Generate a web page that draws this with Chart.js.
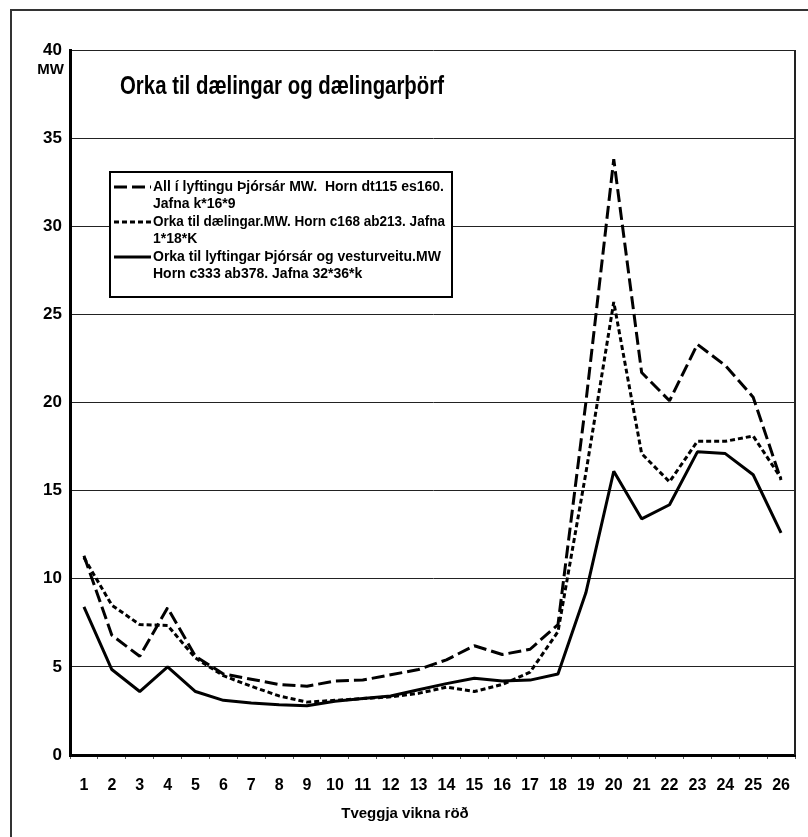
<!DOCTYPE html>
<html>
<head>
<meta charset="utf-8">
<title>Orka til dælingar og dælingarþörf</title>
<script src="https://cdn.jsdelivr.net/npm/chart.js@4/dist/chart.umd.min.js"></script>
<style>
  html, body { margin: 0; padding: 0; background: #fff; }
  #wrap { width: 808px; height: 837px; }
</style>
</head>
<body>
<div id="wrap"><canvas id="chart"></canvas></div>
<script>
// data
const weeks = ['1', '2', '3', '4', '5', '6', '7', '8', '9', '10', '11', '12', '13',
  '14', '15', '16', '17', '18', '19', '20', '21', '22', '23', '24', '25', '26'];

const allLyfting = [11.3, 6.8, 5.6, 8.35, 5.6, 4.6, 4.3, 4.0, 3.9, 4.2, 4.25, 4.55, 4.85,
  5.4, 6.2, 5.7, 6.0, 7.4, 20.0, 33.8, 21.7, 20.1, 23.3, 22.1, 20.3, 15.6];

const orkaDaeling = [11.2, 8.5, 7.4, 7.35, 5.5, 4.5, 3.9, 3.35, 3.0, 3.1, 3.2, 3.3, 3.5,
  3.85, 3.6, 4.0, 4.7, 7.0, 16.0, 25.7, 17.1, 15.5, 17.8, 17.8, 18.1, 15.7];

const orkaLyfting = [8.4, 4.85, 3.6, 5.0, 3.6, 3.1, 2.95, 2.85, 2.8, 3.05, 3.2, 3.35, 3.7,
  4.05, 4.35, 4.2, 4.25, 4.6, 9.2, 16.1, 13.4, 14.2, 17.2, 17.1, 15.9, 12.6];

const seriesLabels = [
  ['All í lyftingu Þjórsár MW.  Horn dt115 es160.', 'Jafna k*16*9'],
  ['Orka til dælingar.MW. Horn c168 ab213. Jafna', '1*18*K'],
  ['Orka til lyftingar Þjórsár og vesturveitu.MW', 'Horn c333 ab378. Jafna 32*36*k']
];

const yTicks = [0, 5, 10, 15, 20, 25, 30, 35, 40];

const FONT = '"Liberation Sans", Arial, sans-serif';

// frame, title, legend and axis captions
const extras = {
  id: 'extras',
  beforeDraw(chart) {
    const ctx = chart.ctx;
    ctx.save();
    ctx.fillStyle = '#fff';
    ctx.fillRect(0, 0, chart.width, chart.height);
    ctx.strokeStyle = '#333';
    ctx.lineWidth = 2;
    ctx.beginPath();
    ctx.moveTo(11, chart.height);
    ctx.lineTo(11, 10);
    ctx.lineTo(chart.width, 10);
    ctx.stroke();
    ctx.restore();
  },
  afterDraw(chart) {
    const ctx = chart.ctx;
    const a = chart.chartArea;
    ctx.save();

    // right edge of plot area
    ctx.strokeStyle = '#222';
    ctx.lineWidth = 2;
    ctx.beginPath();
    ctx.moveTo(a.right, a.top);
    ctx.lineTo(a.right, a.bottom);
    ctx.stroke();

    ctx.fillStyle = '#000';
    ctx.textBaseline = 'alphabetic';

    // unit under the top tick
    ctx.font = 'bold 15px ' + FONT;
    ctx.textAlign = 'right';
    ctx.fillText('MW', a.left - 6, 74);

    // title inside the plot
    ctx.font = 'bold 26px ' + FONT;
    ctx.textAlign = 'left';
    ctx.fillText('Orka til dælingar og dælingarþörf', 120, 94, 324);

    // x axis caption
    ctx.font = 'bold 15px ' + FONT;
    ctx.textAlign = 'center';
    ctx.fillText('Tveggja vikna röð', 405, 818, 130);

    // legend box
    const box = { x: 110, y: 172, w: 342, h: 125 };
    ctx.fillStyle = '#fff';
    ctx.fillRect(box.x, box.y, box.w, box.h);
    ctx.strokeStyle = '#000';
    ctx.lineWidth = 2;
    ctx.strokeRect(box.x, box.y, box.w, box.h);

    const rows = [187, 222, 257];
    chart.data.datasets.forEach((ds, i) => {
      const y = rows[i];
      ctx.strokeStyle = ds.borderColor;
      ctx.lineWidth = ds.borderWidth;
      ctx.setLineDash(ds.borderDash || []);
      ctx.beginPath();
      ctx.moveTo(114, y);
      ctx.lineTo(151, y);
      ctx.stroke();
      ctx.setLineDash([]);

      ctx.fillStyle = '#000';
      ctx.font = 'bold 14px ' + FONT;
      ctx.textAlign = 'left';
      ctx.textBaseline = 'middle';
      ds.label.forEach((line, j) => {
        ctx.fillText(line, 153, y + j * 17.5, 292);
      });
    });

    ctx.restore();
  }
};

new Chart(document.getElementById('chart'), {
  type: 'line',
  data: {
    labels: weeks,
    datasets: [
      {
        label: seriesLabels[0],
        data: allLyfting,
        borderColor: '#000',
        borderWidth: 3,
        borderDash: [13, 5]
      },
      {
        label: seriesLabels[1],
        data: orkaDaeling,
        borderColor: '#000',
        borderWidth: 3,
        borderDash: [5, 3]
      },
      {
        label: seriesLabels[2],
        data: orkaLyfting,
        borderColor: '#000',
        borderWidth: 3
      }
    ]
  },
  options: {
    responsive: true,
    maintainAspectRatio: false,
    animation: false,
    layout: {
      padding: { left: 0, top: 50, right: 13, bottom: 0 }
    },
    elements: {
      point: { radius: 0 },
      line: { tension: 0, borderCapStyle: 'butt', borderJoinStyle: 'bevel' }
    },
    plugins: {
      legend: { display: false },
      tooltip: { enabled: false }
    },
    scales: {
      x: {
        offset: true,
        grid: {
          display: true,
          offset: true,
          drawOnChartArea: false,
          drawTicks: true,
          tickLength: 4,
          color: '#555'
        },
        border: { display: true, color: '#000', width: 3 },
        ticks: {
          color: '#000',
          padding: 17,
          maxRotation: 0,
          autoSkip: false,
          font: { family: FONT, size: 16, weight: 'bold' }
        },
        afterFit(scale) { scale.height = 82; }
      },
      y: {
        min: 0,
        max: 40,
        afterBuildTicks(scale) {
          scale.ticks = yTicks.map(v => ({ value: v }));
        },
        grid: {
          color: '#222',
          lineWidth: 1,
          drawTicks: false
        },
        border: { display: true, color: '#000', width: 3 },
        ticks: {
          color: '#000',
          padding: 8,
          font: { family: FONT, size: 17, weight: 'bold' }
        },
        afterFit(scale) { scale.width = 70; }
      }
    }
  },
  plugins: [extras]
});
</script>
</body>
</html>
